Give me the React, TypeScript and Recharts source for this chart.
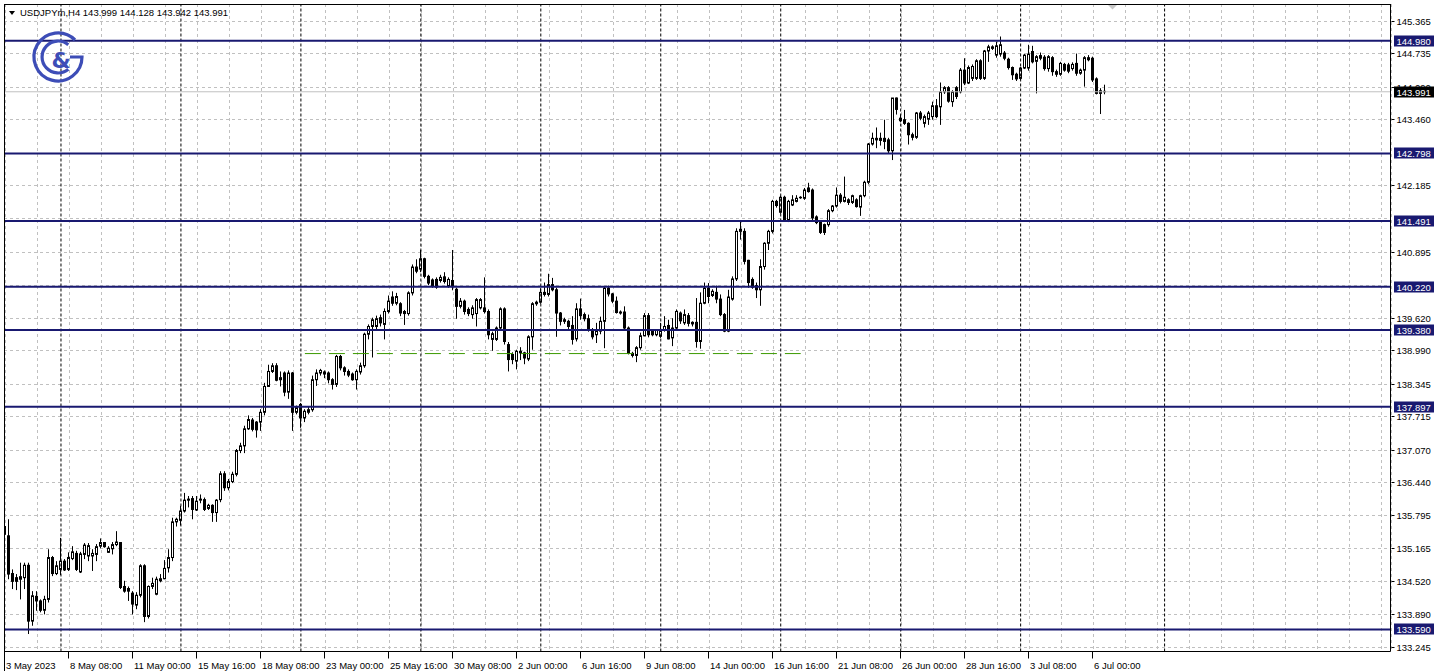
import React from 'react'
import { ComposedChart, Bar, XAxis, YAxis, CartesianGrid, ReferenceLine } from 'recharts'

const W = 1438
const H = 671
const FONT = "'Liberation Sans', Arial, sans-serif"
const NAVY = '#191970'

// USDJPYm H4, one value per bar
const opens = [
  135.58, 135.40, 134.67, 134.59, 134.56, 134.59, 134.83, 133.75, 134.23, 134.14,
  133.96, 134.17, 134.98, 134.67, 134.75, 134.91, 134.75, 134.96, 135.06, 134.70,
  135.04, 135.01, 135.01, 135.04, 135.20, 135.27, 135.08, 135.15, 135.23, 135.27,
  134.42, 134.38, 134.29, 134.06, 134.25, 134.82, 133.84, 134.42, 134.27, 134.53,
  134.57, 134.78, 134.98, 135.67, 135.70, 135.88, 136.11, 136.12, 135.90, 136.09,
  136.10, 135.93, 135.99, 135.85, 136.10, 136.60, 136.33, 136.45, 136.59, 137.05,
  137.14, 137.47, 137.64, 137.60, 137.60, 137.79, 138.29, 138.58, 138.69, 138.42,
  138.55, 138.18, 138.55, 137.79, 137.94, 137.68, 137.79, 137.84, 138.42, 138.55,
  138.57, 138.55, 138.42, 138.33, 138.87, 138.65, 138.58, 138.53, 138.42, 138.57,
  138.69, 139.30, 139.45, 139.45, 139.62, 139.49, 139.74, 140.02, 139.90, 139.89,
  139.74, 139.70, 140.10, 140.60, 140.56, 140.76, 140.42, 140.35, 140.36, 140.34,
  140.41, 140.23, 140.34, 140.17, 139.84, 139.94, 139.78, 139.68, 139.70, 139.81,
  139.81, 139.74, 139.20, 139.20, 139.42, 139.79, 139.10, 138.91, 138.78, 138.94,
  138.94, 138.82, 139.25, 139.89, 139.92, 140.07, 140.07, 140.26, 140.16, 139.71,
  139.58, 139.55, 139.47, 139.21, 139.79, 139.68, 139.60, 139.39, 139.29, 139.36,
  139.55, 140.19, 140.08, 139.94, 139.73, 139.73, 139.42, 138.93, 138.89, 139.04,
  139.27, 139.66, 139.38, 139.29, 139.26, 139.38, 139.47, 139.23, 139.42, 139.71,
  139.52, 139.66, 139.50, 139.53, 139.16, 139.90, 140.19, 140.05, 140.11, 139.98,
  139.68, 139.36, 139.98, 140.37, 141.29, 141.29, 140.73, 140.36, 140.24, 140.16,
  140.61, 141.06, 141.29, 141.87, 141.66, 141.95, 141.51, 141.80, 141.87, 141.94,
  141.93, 142.13, 142.09, 141.57, 141.48, 141.42, 141.42, 141.69, 141.78, 141.99,
  141.87, 141.90, 141.85, 141.90, 141.76, 141.98, 142.24, 142.98, 143.06, 143.09,
  143.09, 143.06, 142.85, 143.87, 143.48, 143.45, 143.38, 143.16, 143.11, 143.58,
  143.38, 143.46, 143.51, 143.72, 143.70, 143.99, 144.07, 143.80, 144.07, 143.99,
  144.41, 144.16, 144.25, 144.25, 144.59, 144.25, 144.78, 144.83, 144.70, 144.72,
  144.74, 144.62, 144.46, 144.33, 144.25, 144.45, 144.45, 144.77, 144.58, 144.69,
  144.66, 144.44, 144.65, 144.38, 144.33, 144.52, 144.51, 144.44, 144.54, 144.35,
  144.41, 144.65, 144.64, 144.24, 143.96, 143.999,
]

const highs = [
  135.72, 135.72, 134.75, 134.66, 134.88, 134.88, 134.88, 134.33, 134.33, 134.17,
  134.24, 135.14, 135.01, 134.91, 135.36, 134.95, 135.08, 135.20, 135.11, 135.09,
  135.26, 135.26, 135.14, 135.24, 135.35, 135.28, 135.20, 135.28, 135.49, 135.28,
  134.53, 134.42, 134.33, 134.31, 134.85, 134.85, 134.44, 134.59, 134.61, 134.66,
  134.93, 135.14, 135.75, 135.75, 135.98, 136.23, 136.17, 136.17, 136.17, 136.20,
  136.14, 136.02, 136.01, 136.11, 136.65, 136.65, 136.50, 136.64, 137.08, 137.20,
  137.53, 137.73, 137.68, 137.62, 137.85, 138.36, 138.71, 138.74, 138.74, 138.58,
  138.58, 138.60, 138.57, 137.92, 137.97, 137.85, 137.90, 138.50, 138.62, 138.63,
  138.60, 138.58, 138.45, 138.90, 138.90, 138.68, 138.62, 138.56, 138.62, 138.75,
  139.33, 139.49, 139.62, 139.66, 139.68, 139.80, 140.05, 140.13, 140.10, 139.92,
  139.77, 140.13, 140.65, 140.75, 140.93, 140.78, 140.45, 140.38, 140.40, 140.45,
  140.50, 140.40, 140.93, 140.20, 140.00, 139.97, 139.82, 139.86, 140.00, 140.00,
  140.40, 139.78, 139.35, 139.45, 139.82, 139.82, 139.15, 138.95, 139.00, 139.05,
  138.96, 139.28, 139.92, 139.95, 140.19, 140.30, 140.47, 140.39, 140.20, 139.73,
  139.62, 139.58, 139.65, 139.90, 139.99, 139.72, 139.68, 139.42, 139.52, 139.64,
  140.23, 140.24, 140.10, 140.03, 139.76, 139.84, 139.45, 138.96, 139.07, 139.33,
  139.71, 139.71, 139.40, 139.40, 139.52, 139.65, 139.58, 139.61, 139.78, 139.74,
  139.78, 139.71, 139.55, 140.00, 140.11, 140.30, 140.29, 140.17, 140.24, 140.07,
  139.71, 140.16, 140.42, 141.35, 141.50, 141.35, 140.74, 140.40, 140.30, 140.75,
  141.08, 141.32, 141.90, 141.90, 141.98, 141.98, 141.90, 141.99, 141.99, 141.97,
  142.13, 142.23, 142.12, 141.60, 141.50, 141.44, 141.72, 141.80, 142.14, 142.03,
  142.35, 141.93, 142.00, 141.93, 142.00, 142.27, 143.00, 143.20, 143.30, 143.20,
  143.45, 143.10, 143.87, 143.88, 143.55, 143.64, 143.40, 143.20, 143.60, 143.62,
  143.55, 143.62, 143.80, 143.85, 144.17, 144.10, 144.10, 144.02, 144.10, 144.45,
  144.64, 144.50, 144.52, 144.62, 144.62, 144.80, 144.90, 144.89, 144.96, 145.06,
  144.78, 144.65, 144.48, 144.36, 144.47, 144.72, 144.90, 144.88, 144.70, 144.75,
  144.70, 144.70, 144.68, 144.42, 144.57, 144.55, 144.55, 144.56, 144.73, 144.44,
  144.68, 144.70, 144.67, 144.27, 144.06, 144.128,
]

const lows = [
  135.35, 134.56, 134.37, 134.35, 134.17, 134.37, 133.50, 133.66, 133.95, 133.92,
  133.88, 134.11, 134.62, 134.64, 134.64, 134.72, 134.72, 134.93, 134.72, 134.68,
  134.95, 134.91, 134.72, 134.91, 135.16, 135.17, 135.07, 135.04, 135.20, 134.37,
  134.30, 134.14, 133.88, 133.98, 134.21, 133.73, 133.80, 134.37, 134.25, 134.50,
  134.56, 134.69, 134.91, 135.58, 135.60, 135.85, 135.95, 135.72, 135.88, 136.03,
  135.88, 135.90, 135.67, 135.67, 136.05, 136.27, 136.28, 136.42, 136.55, 137.00,
  137.00, 137.45, 137.42, 137.30, 137.43, 137.73, 138.28, 138.55, 138.39, 138.29,
  138.10, 138.05, 137.43, 137.75, 137.49, 137.60, 137.75, 137.80, 138.30, 138.50,
  138.45, 138.35, 138.23, 138.28, 138.60, 138.50, 138.47, 138.40, 138.23, 138.52,
  138.65, 139.20, 138.85, 139.40, 139.45, 139.20, 139.70, 139.85, 139.86, 139.65,
  139.48, 139.66, 140.05, 140.48, 140.50, 140.38, 140.25, 140.20, 140.18, 140.30,
  140.28, 140.20, 140.15, 139.60, 139.80, 139.68, 139.65, 139.60, 139.45, 139.78,
  139.70, 139.20, 138.98, 139.17, 139.38, 139.10, 138.58, 138.72, 138.62, 138.80,
  138.72, 138.78, 139.00, 139.85, 139.89, 140.03, 140.03, 140.13, 139.25, 139.47,
  139.50, 139.40, 139.10, 139.16, 139.58, 139.55, 139.35, 139.20, 139.13, 139.30,
  139.03, 140.03, 139.90, 139.70, 139.68, 139.40, 138.91, 138.85, 138.76, 139.00,
  139.26, 139.24, 139.26, 139.26, 139.23, 139.35, 139.20, 139.07, 139.40, 139.50,
  139.48, 139.45, 139.45, 139.04, 139.02, 139.88, 139.90, 140.02, 139.90, 139.65,
  139.34, 139.34, 139.95, 140.33, 141.13, 140.65, 140.20, 140.18, 140.00, 139.85,
  140.55, 140.93, 141.25, 141.75, 141.63, 141.48, 141.47, 141.78, 141.85, 141.92,
  141.90, 142.04, 141.50, 141.43, 141.24, 141.22, 141.38, 141.66, 141.75, 141.83,
  141.85, 141.80, 141.82, 141.75, 141.59, 141.95, 142.20, 142.95, 142.90, 142.95,
  142.88, 142.80, 142.67, 143.55, 143.40, 143.35, 142.97, 143.05, 143.08, 143.44,
  143.30, 143.35, 143.45, 143.48, 143.35, 143.95, 143.78, 143.70, 143.85, 143.96,
  144.12, 144.14, 144.20, 144.22, 144.22, 144.22, 144.57, 144.80, 144.65, 144.67,
  144.60, 144.42, 144.22, 144.20, 144.22, 144.43, 144.40, 144.54, 143.96, 144.60,
  144.40, 144.38, 144.30, 144.28, 144.30, 144.38, 144.35, 144.40, 144.30, 144.32,
  144.09, 144.58, 144.18, 143.94, 143.56, 143.942,
]

const closes = [
  135.43, 134.66, 134.52, 134.52, 134.61, 134.83, 133.75, 134.24, 134.14, 133.96,
  134.17, 134.98, 134.67, 134.82, 134.91, 134.74, 134.98, 135.09, 134.75, 135.05,
  135.22, 135.21, 135.06, 135.19, 135.27, 135.19, 135.16, 135.23, 135.28, 134.40,
  134.33, 134.33, 134.08, 134.25, 134.82, 133.84, 134.42, 134.48, 134.56, 134.57,
  134.77, 134.98, 135.67, 135.72, 135.88, 136.09, 136.09, 135.91, 136.07, 136.11,
  135.91, 135.99, 135.85, 136.09, 136.60, 136.33, 136.45, 136.59, 137.05, 137.14,
  137.47, 137.65, 137.46, 137.45, 137.79, 138.29, 138.58, 138.69, 138.41, 138.46,
  138.18, 138.55, 137.79, 137.88, 137.68, 137.81, 137.84, 138.42, 138.55, 138.60,
  138.53, 138.42, 138.33, 138.87, 138.65, 138.58, 138.51, 138.42, 138.58, 138.69,
  139.30, 139.45, 139.58, 139.60, 139.52, 139.74, 139.94, 139.90, 140.03, 139.71,
  139.70, 140.10, 140.60, 140.52, 140.76, 140.42, 140.29, 140.23, 140.21, 140.40,
  140.32, 140.36, 140.22, 139.84, 139.94, 139.74, 139.70, 139.81, 139.97, 139.97,
  139.74, 139.29, 139.31, 139.42, 139.79, 139.16, 138.81, 138.81, 138.97, 138.97,
  138.84, 139.25, 139.89, 139.92, 140.11, 140.11, 140.26, 140.16, 139.71, 139.55,
  139.55, 139.45, 139.20, 139.79, 139.66, 139.60, 139.39, 139.25, 139.36, 139.55,
  140.19, 140.08, 139.94, 139.72, 139.71, 139.42, 138.93, 138.89, 139.04, 139.27,
  139.66, 139.29, 139.29, 139.38, 139.36, 139.45, 139.21, 139.42, 139.74, 139.56,
  139.68, 139.51, 139.53, 139.16, 139.90, 140.19, 140.03, 140.13, 139.98, 139.68,
  139.36, 140.02, 140.37, 141.29, 141.33, 140.71, 140.30, 140.21, 140.16, 140.61,
  141.06, 141.29, 141.87, 141.79, 141.95, 141.51, 141.87, 141.90, 141.93, 141.95,
  142.09, 142.06, 141.55, 141.46, 141.27, 141.27, 141.69, 141.78, 141.99, 141.87,
  141.95, 141.85, 141.98, 141.77, 141.98, 142.24, 142.98, 143.09, 143.09, 143.05,
  143.03, 142.85, 143.87, 143.65, 143.43, 143.38, 143.16, 143.11, 143.58, 143.48,
  143.51, 143.58, 143.72, 143.51, 143.99, 144.07, 143.81, 143.99, 143.90, 144.41,
  144.16, 144.46, 144.48, 144.59, 144.25, 144.78, 144.86, 144.86, 144.88, 144.90,
  144.64, 144.46, 144.32, 144.24, 144.45, 144.70, 144.72, 144.57, 144.67, 144.64,
  144.44, 144.67, 144.38, 144.33, 144.54, 144.41, 144.39, 144.52, 144.35, 144.41,
  144.65, 144.61, 144.22, 143.96, 144.01, 143.991,
]

// time axis: a label every 16 bars
const timeTickIdx = [0, 16, 32, 48, 64, 80, 96, 112, 128, 144, 160, 176, 192, 208, 224, 240, 256, 272]
const timeTickLabels = [
  '3 May 2023', '8 May 08:00', '11 May 00:00', '15 May 16:00', '18 May 08:00', '23 May 00:00',
  '25 May 16:00', '30 May 08:00', '2 Jun 00:00', '6 Jun 16:00', '9 Jun 08:00', '14 Jun 00:00',
  '16 Jun 16:00', '21 Jun 08:00', '26 Jun 00:00', '28 Jun 16:00', '3 Jul 08:00', '6 Jul 00:00',
]
// light grid every 8 bars, weekly separators
const gridIdx = Array.from({ length: 44 }, (_, n) => n * 8)
const weekIdx = [14, 44, 74, 104, 134, 164, 194, 224, 254, 290]

const priceTicks = [
  145.365, 144.735, 144.09, 143.46, 142.815, 142.185, 141.54, 140.895, 140.25, 139.62,
  138.99, 138.345, 137.715, 137.07, 136.44, 135.795, 135.165, 134.52, 133.89, 133.245,
]
const hiddenTicks = [142.815, 141.54, 140.25]
const levels = [144.98, 142.798, 141.491, 140.22, 139.38, 137.897, 133.59]
const lastPrice = 143.991
const trendLevel = 138.926
const trendFrom = 75
const trendTo = 199

const data = opens.map((o, i) => ({
  i, o, h: highs[i], l: lows[i], c: closes[i], range: [lows[i], highs[i]],
}))

function Candle(props: any) {
  const { x, y, width, height, payload } = props
  if (!payload) return <g />
  const top = Math.min(y, y + height)
  const hgt = Math.abs(height)
  const { o, h, l, c } = payload
  const span = h - l
  const toY = (v: number) => (span > 0 ? top + ((h - v) / span) * hgt : top)
  const cx = Math.floor(x + width / 2) + 0.5
  const y1 = toY(Math.max(o, c))
  const y2 = toY(Math.min(o, c))
  return (
    <g>
      <line x1={cx} x2={cx} y1={top} y2={top + hgt} stroke="#000" strokeWidth={1} />
      <rect
        x={cx - 1} y={y1} width={2} height={Math.max(y2 - y1, 0.01)}
        fill={c >= o ? '#fff' : '#000'} stroke="#000" strokeWidth={1}
      />
    </g>
  )
}

function TimeTick(props: any) {
  const { x, y, payload } = props
  const j = timeTickIdx.indexOf(payload.value)
  if (j < 0) return <g />
  const tx = Math.round(x) - 0.5
  return (
    <g>
      {j > 0 && <line x1={tx} x2={tx} y1={y} y2={y + 7} stroke="#000" />}
      <text x={tx + 1.5} y={y + 17.5} fontSize={9.5} fontFamily={FONT} fill="#000">
        {timeTickLabels[j]}
      </text>
    </g>
  )
}

function PriceTick(props: any) {
  const { x, y, payload } = props
  const v = payload.value
  const cy = Math.round(y)
  if (levels.includes(v) || v === lastPrice) {
    return (
      <g>
        <rect x={x + 3.5} y={cy - 5.5} width={40} height={11} fill={v === lastPrice ? '#000' : NAVY} />
        <text x={x + 6} y={cy + 3.5} fontSize={9.5} fontFamily={FONT} fill="#fff">{v.toFixed(3)}</text>
      </g>
    )
  }
  if (hiddenTicks.includes(v)) return <g />
  return (
    <g>
      <line x1={x + 1} x2={x + 4} y1={cy + 0.5} y2={cy + 0.5} stroke="#000" />
      <text x={x + 6} y={cy + 3.5} fontSize={9.5} fontFamily={FONT} fill="#000">{v.toFixed(3)}</text>
    </g>
  )
}

const hLine = (p: any) => {
  if (p.index !== undefined && p.index >= priceTicks.length) return <g key={p.key} />
  const yy = Math.round(p.y1) + 0.5
  return <line key={p.key} x1={p.x1} x2={p.x2} y1={yy} y2={yy} stroke="#c0c0c0" strokeDasharray="3 3" />
}
const vLine = (p: any) => {
  const xx = Math.round(p.x1) + 0.5
  return <line key={p.key} x1={xx} x2={xx} y1={p.y1} y2={p.y2} stroke="#c0c0c0" strokeDasharray="3 3" />
}

export default function App() {
  return (
    <div style={{ position: 'absolute', left: 0, top: 0, width: W, height: H, background: '#fff' }}>
      <ComposedChart width={W} height={H} data={data} margin={{ top: 4, right: 0.5, bottom: 0.5, left: 4 }}>
        <CartesianGrid horizontal={hLine} vertical={vLine} />
        <XAxis
          dataKey="i" type="number" domain={[-0.25, 346.5]} allowDataOverflow
          ticks={gridIdx} interval={0} tick={TimeTick} tickLine={false}
          tickSize={0} tickMargin={0} height={19} axisLine={{ stroke: '#000' }}
        />
        <YAxis
          orientation="right" type="number" domain={[133.162, 145.689]} allowDataOverflow
          ticks={[...priceTicks, ...levels, lastPrice]} interval={0} tick={PriceTick}
          tickLine={false} tickSize={0} tickMargin={0} width={47} axisLine={{ stroke: '#000' }}
        />
        {weekIdx.map((k) => (
          <ReferenceLine key={'w' + k} x={k} stroke="#000" strokeDasharray="3 2" />
        ))}
        <ReferenceLine y={lastPrice} stroke="#c0c0c0" />
        {levels.map((v) => (
          <ReferenceLine key={'l' + v} y={v} stroke={NAVY} strokeWidth={2} />
        ))}
        <ReferenceLine
          segment={[{ x: trendFrom, y: trendLevel }, { x: trendTo, y: trendLevel }]}
          stroke="#3c9a00" strokeDasharray="16 8"
        />
        <Bar dataKey="range" barSize={3} shape={Candle} isAnimationActive={false} />
      </ComposedChart>
      <svg width={W} height={H} style={{ position: 'absolute', left: 0, top: 0, pointerEvents: 'none' }}>
        <line x1={4} x2={1391} y1={4.5} y2={4.5} stroke="#000" />
        <line x1={4.5} x2={4.5} y1={4} y2={H} stroke="#000" />
        <polygon points="9,11 15,11 12,15" fill="#000" />
        <text x={20} y={16} fontSize={9.5} fontFamily={FONT} fill="#000">
          USDJPYm,H4  143.999 144.128 143.942 143.991
        </text>
        <polygon points="1108,5 1117,5 1112.5,9.5" fill="#c8c8c8" />
        <g fill="none" stroke="#3d4db7" strokeWidth={3.2}>
          <path d="M 75 40 A 24 24 0 1 0 82 57 L 70 57" />
          <path d="M 68.3 44.7 A 16 16 0 1 0 68.3 69.3" />
        </g>
        <text x={61} y={68} fontSize={22} fontFamily="'DejaVu Sans'" fontWeight="bold" fill="#3d4db7" textAnchor="middle">
          &amp;
        </text>
      </svg>
    </div>
  )
}
